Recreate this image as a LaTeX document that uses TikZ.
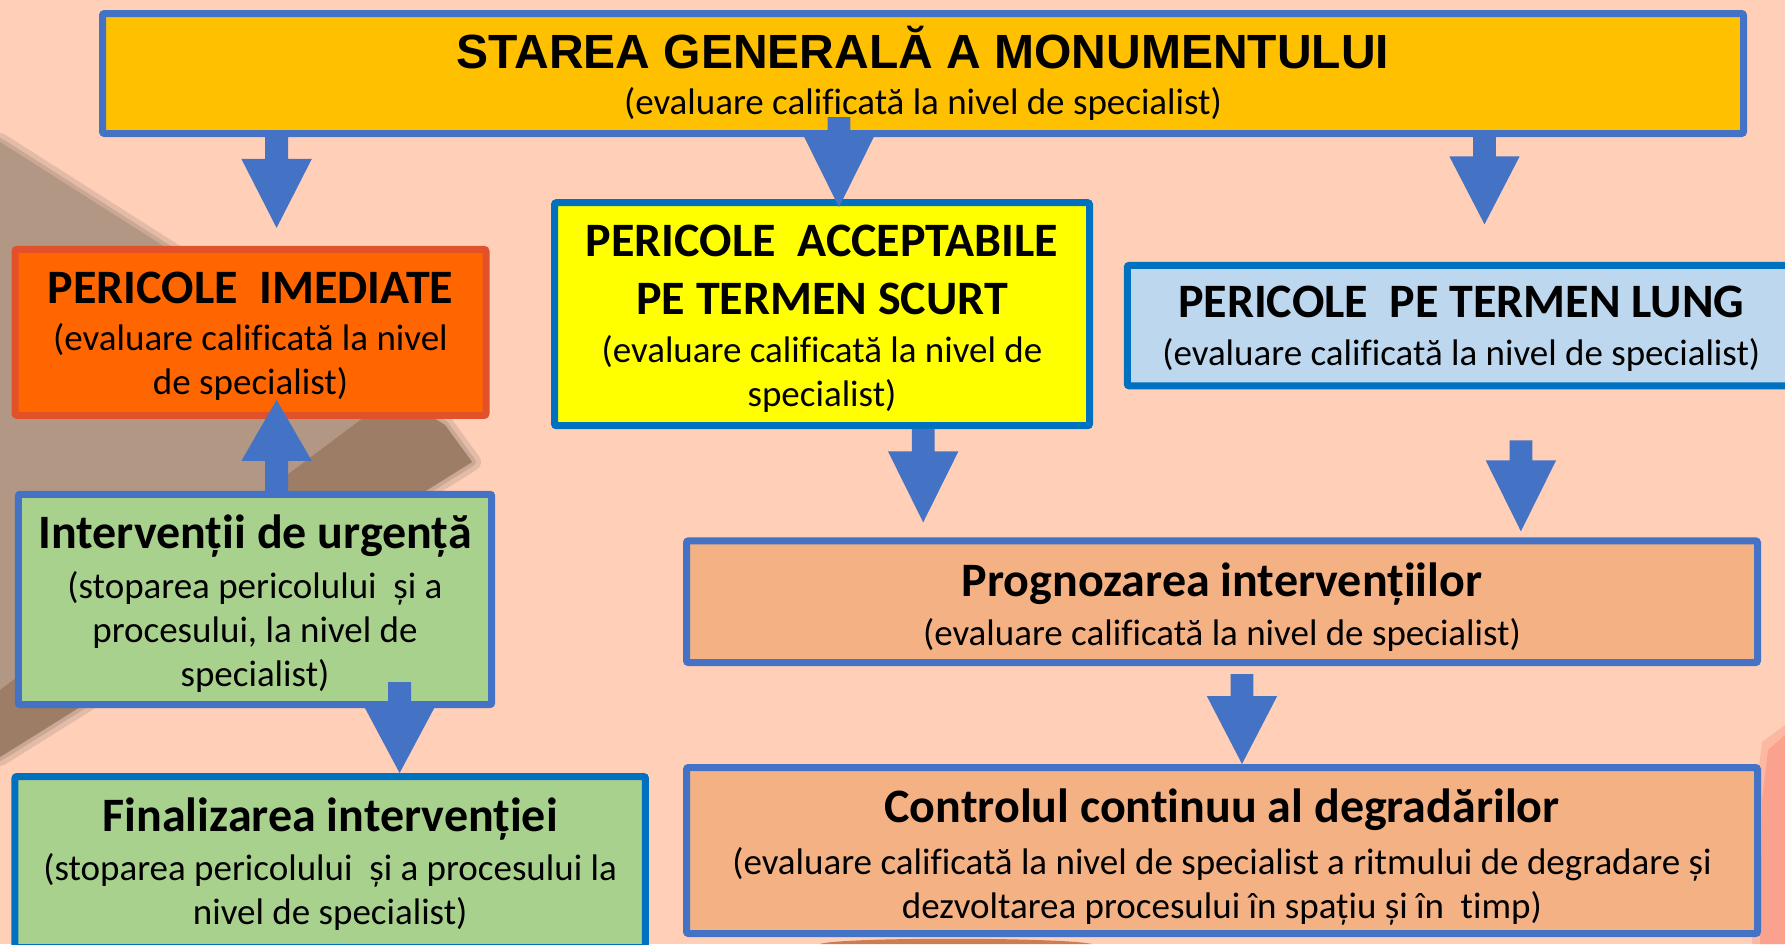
\documentclass[tikz,border=0pt]{standalone}
\usepackage{fontspec}
\setmainfont{Carlito}[Ligatures={NoCommon}]
\newfontfamily\arialfont{Liberation Sans}
\usetikzlibrary{calc}
\definecolor{bgpeach}{HTML}{FFCFB8}
\definecolor{brownlight}{HTML}{B39785}
\definecolor{browndark}{HTML}{9D7D66}
\definecolor{pinkish}{HTML}{FAA28D}
\definecolor{darkorange}{HTML}{CD7D52}
\definecolor{arrowblue}{HTML}{4472C4}
\definecolor{blueborder}{HTML}{4472C4}
\definecolor{deepblue}{HTML}{0070C0}
\definecolor{goldfill}{HTML}{FFC000}
\definecolor{orangefill}{HTML}{FF6600}
\definecolor{orangeborder}{HTML}{E2522A}
\definecolor{yellowfill}{HTML}{FFFF00}
\definecolor{lightbluefill}{HTML}{BDD7EE}
\definecolor{greenfill}{HTML}{A9D18E}
\definecolor{salmonfill}{HTML}{F4B183}
\newcommand\subfont{\fontsize{18.5}{22}\selectfont}
\newcommand\headfont{\fontsize{24}{29}\selectfont\bfseries}
\newcommand\titlefont{\arialfont\fontsize{24}{29}\selectfont\bfseries}
\newcommand\hs[1]{\rule{0pt}{#1pt}}
% block arrow: #1 head length, #2 start coordinate, #3 tip coordinate
\newcommand\blockarrow[3]{%
  \fill[arrowblue] ([xshift=-5.7pt]#2) -- ([xshift=5.7pt]#2)
    -- ($(#3)!#1!(#2)+(5.7pt,0)$) -- ($(#3)!#1!(#2)+(17.6pt,0)$) -- (#3)
    -- ($(#3)!#1!(#2)+(-17.6pt,0)$) -- ($(#3)!#1!(#2)+(-5.7pt,0)$) -- cycle;}
\begin{document}
\begin{tikzpicture}[x=0.5pt,y=-0.5pt,
  box/.style={draw, line width=3.5pt, rounded corners=1pt, inner sep=0pt,
    align=center, font=\subfont, text=black}]
\useasboundingbox (0,0) rectangle (1785,944);
\fill[bgpeach] (0,0) rectangle (1785,944);
% background photo remnants (soft edges)
\draw[brownlight, opacity=0.35, line width=9pt, line join=round]
  (0,142) -- (445,425) -- (472,462) -- (0,757) -- cycle;
\draw[brownlight, opacity=0.5, line width=4pt, line join=round]
  (0,142) -- (445,425) -- (472,462) -- (0,757) -- cycle;
\fill[brownlight] (0,142) -- (445,425) -- (472,462) -- (0,757) -- cycle;
\fill[browndark] (395,394) -- (445,425) -- (472,462) -- (0,757) -- (0,690) -- cycle;
\fill[pinkish, opacity=0.5] (1785,725) -- (1762,742) -- (1755,800) -- (1752,944) -- (1785,944) -- cycle;
\fill[pinkish] (1785,735) -- (1768,750) -- (1762,800) -- (1760,944) -- (1785,944) -- cycle;
\fill[darkorange] (820,944) .. controls (840,937) and (1060,937) .. (1092,944) -- cycle;

% boxes
\node[box, fill=goldfill, draw=blueborder, minimum width=820.5pt, minimum height=60pt]
  (stare) at (923,73.5)
  {{\titlefont STAREA GENERALĂ A MONUMENTULUI}\\[1.2pt](evaluare calificată la nivel de specialist)};
\node[box, fill=orangefill, draw=orangeborder, minimum width=235.5pt, minimum height=83pt]
  (imed) at (250.5,332.4)
  {{\headfont\hs{19.8}PERICOLE~ IMEDIATE}\\[1.65pt](evaluare calificată la nivel\\de specialist)};
\node[box, fill=yellowfill, draw=deepblue, minimum width=267.5pt, minimum height=111.5pt]
  (scurt) at (822,314.2)
  {{\headfont\hs{20}PERICOLE~ ACCEPTABILE}\\[7pt]{\headfont PE TERMEN SCURT}\\[2.2pt](evaluare calificată la nivel de\\specialist)};
\node[box, fill=lightbluefill, draw=deepblue, minimum width=334pt, minimum height=60.25pt]
  (lung) at (1461.3,325.6)
  {{\headfont\hs{18.9}PERICOLE~ PE TERMEN LUNG}\\[2.2pt](evaluare calificată la nivel de specialist)};
\node[box, fill=greenfill, draw=blueborder, minimum width=236.7pt, minimum height=105.15pt]
  (urg) at (255,599.4)
  {{\headfont\hs{21.3}Intervenții de urgență}\\[2.8pt](stoparea pericolului~ și a\\procesului, la nivel de\\specialist)};
\node[box, fill=greenfill, draw=deepblue, minimum width=315.25pt, minimum height=85.5pt]
  (fin) at (330.2,862)
  {{\headfont\hs{19}Finalizarea intervenției}\\[2.8pt](stoparea pericolului~ și a procesului la\\nivel de specialist)};
\node[box, fill=salmonfill, draw=blueborder, minimum width=535.5pt, minimum height=60.85pt]
  (prog) at (1222,601.7)
  {{\headfont\hs{22.4}Prognozarea intervențiilor}\\[2.8pt](evaluare calificată la nivel de specialist)};
\node[box, fill=salmonfill, draw=blueborder, minimum width=535.5pt, minimum height=83pt]
  (ctrl) at (1222,850.5)
  {{\headfont\hs{23.3}Controlul continuu al degradărilor}\\[3.9pt](evaluare calificată la nivel de specialist a ritmului de degradare și\\dezvoltarea procesului în spațiu și în~ timp)};

% arrow columns
\coordinate (c1) at (276.6,0);
\coordinate (c2) at (839,0);
\coordinate (c3) at (1484.5,0);
\coordinate (c5) at (399.6,0);
\coordinate (c6) at (923.2,0);
\coordinate (c7) at (1520.9,0);
\coordinate (c8) at (1242,0);

\coordinate (a1s) at (stare.south -| c1);
\coordinate (a1e) at ($(imed.north -| c1)+(0,-18)$);
\coordinate (a2s) at ($(stare.south -| c2)+(0,-20)$);
\coordinate (a2e) at ($(scurt.north -| c2)+(0,8)$);
\coordinate (a3s) at (stare.south -| c3);
\coordinate (a3e) at ($(lung.north -| c3)+(0,-37.6)$);
\coordinate (a4s) at (urg.north -| c1);
\coordinate (a4e) at ($(imed.south -| c1)+(0,-19)$);
\coordinate (a5s) at ($(urg.south -| c5)+(0,-26)$);
\coordinate (a5e) at (fin.north -| c5);
\coordinate (a6s) at (scurt.south -| c6);
\coordinate (a6e) at ($(prog.north -| c6)+(0,-15)$);
\coordinate (a7s) at ($(lung.south -| c7)+(0,51)$);
\coordinate (a7e) at ($(prog.north -| c7)+(0,-6)$);
\coordinate (a8s) at ($(prog.south -| c8)+(0,8)$);
\coordinate (a8e) at (ctrl.north -| c8);

\blockarrow{34.5pt}{a1s}{a1e}
\blockarrow{35.5pt}{a2s}{a2e}
\blockarrow{34pt}{a3s}{a3e}
\blockarrow{30.5pt}{a4s}{a4e}
\blockarrow{33pt}{a5s}{a5e}
\blockarrow{35.5pt}{a6s}{a6e}
\blockarrow{35.5pt}{a7s}{a7e}
\blockarrow{34pt}{a8s}{a8e}
\end{tikzpicture}
\end{document}
